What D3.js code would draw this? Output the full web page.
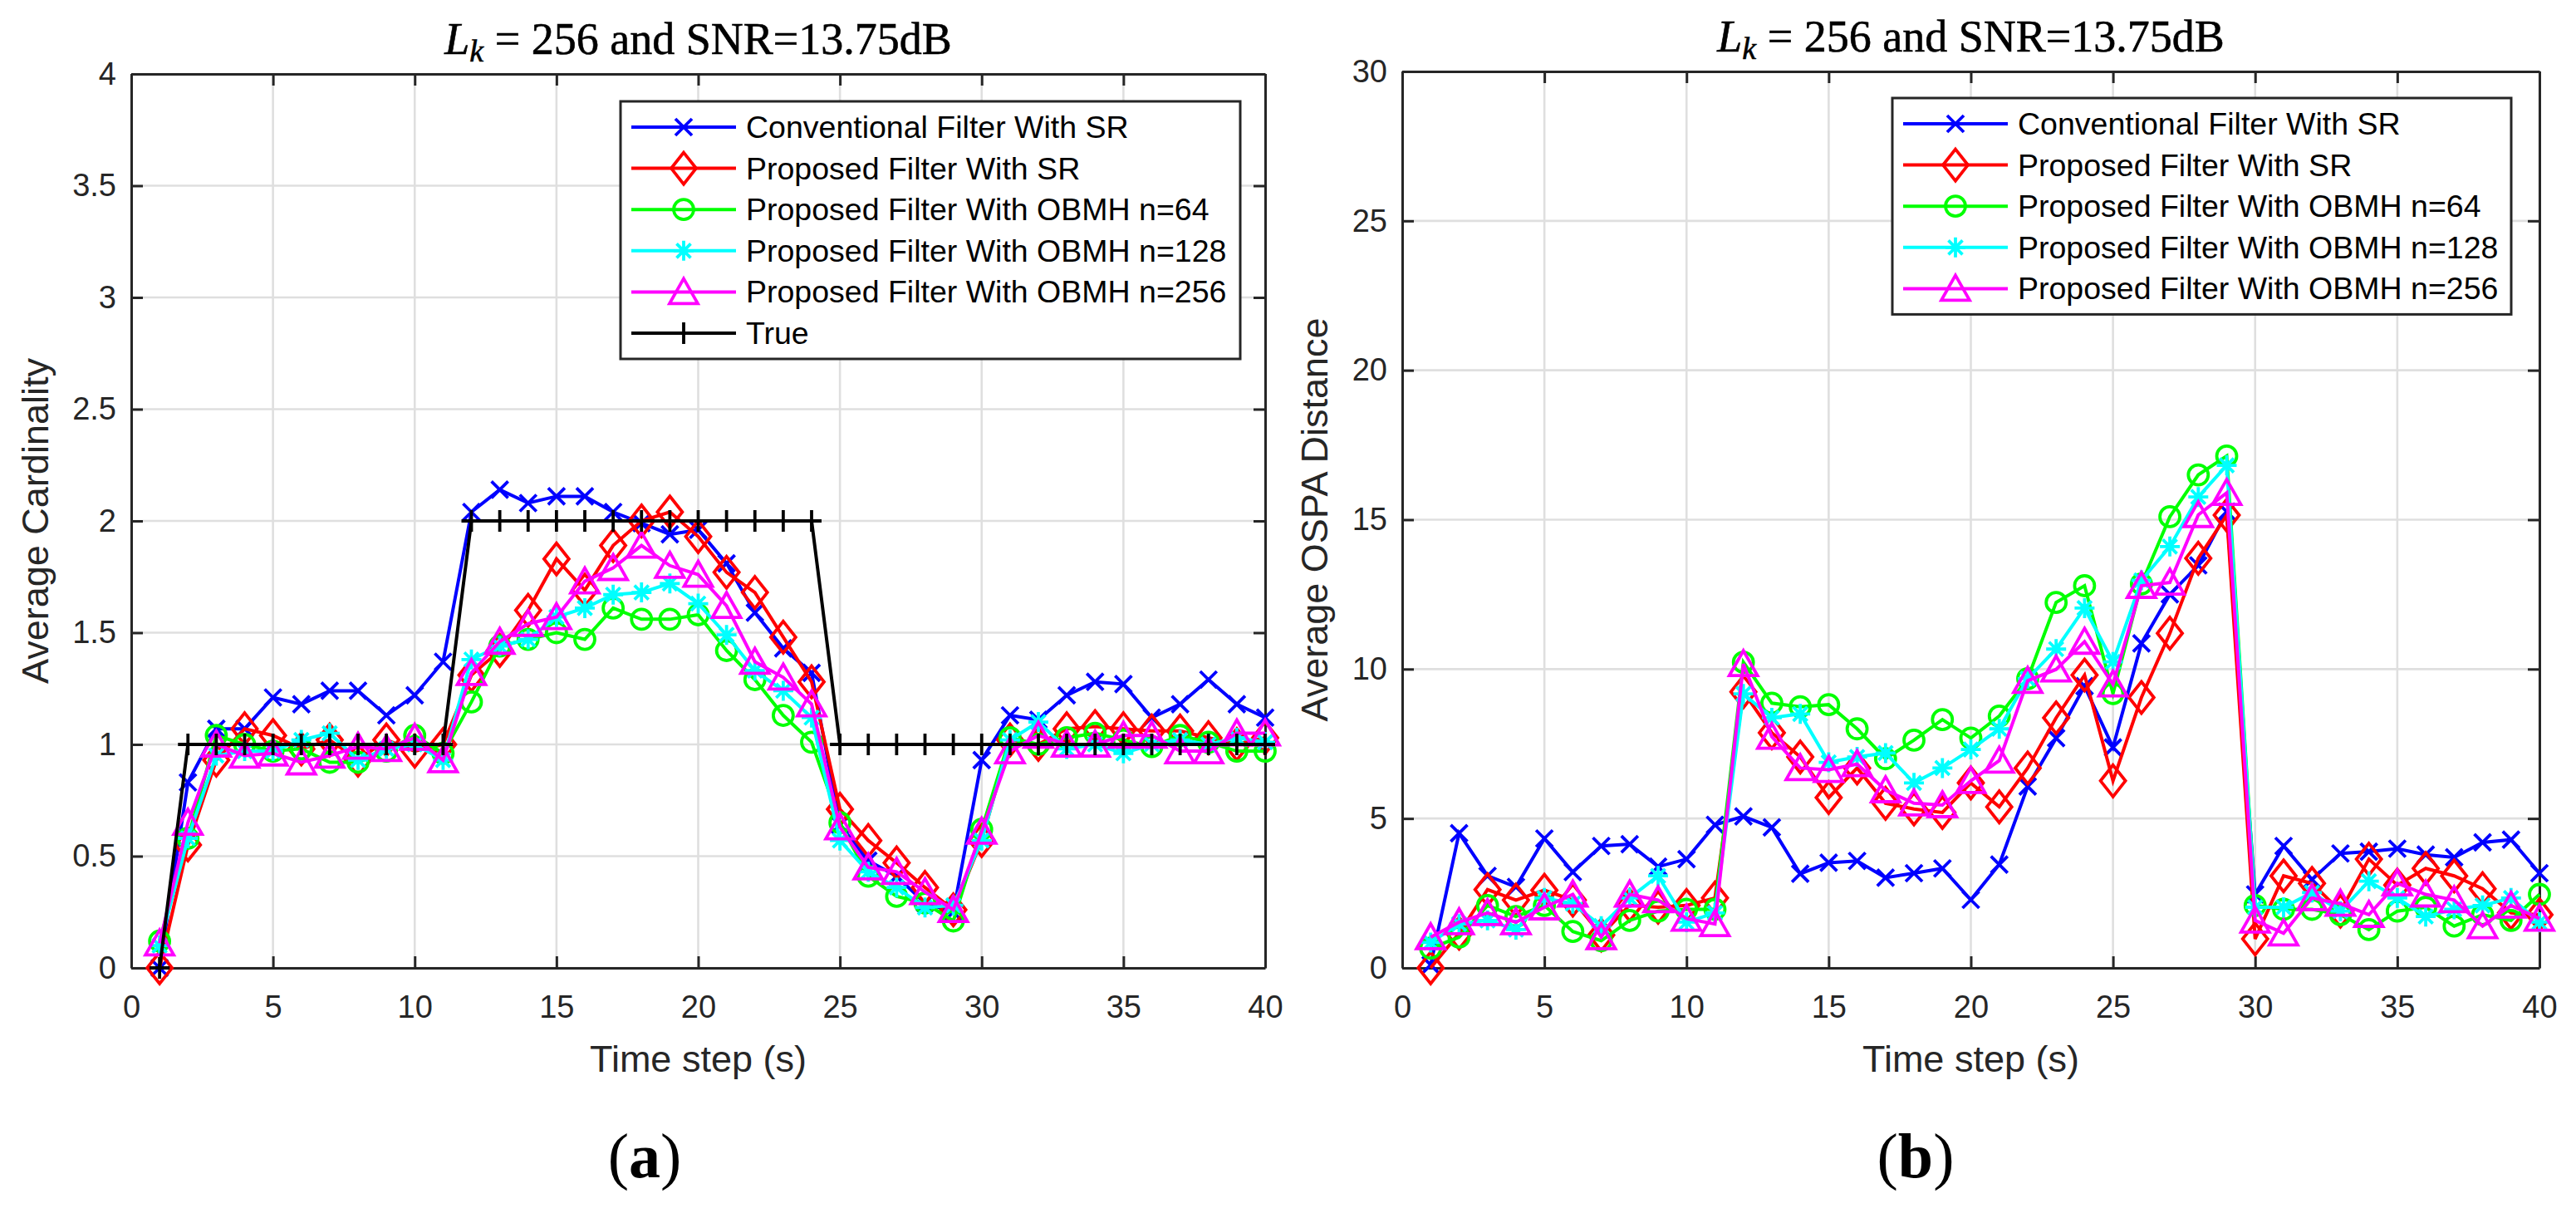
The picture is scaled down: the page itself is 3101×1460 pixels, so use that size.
<!DOCTYPE html>
<html>
<head>
<meta charset="utf-8">
<script src="https://cdn.jsdelivr.net/npm/d3@7/dist/d3.min.js"></script>
<style>
  html, body { margin: 0; padding: 0; background: #ffffff; }
  svg { display: block; }
</style>
</head>
<body>
<svg id="chart" width="3101" height="1460"></svg>
<script>
// ---------------- DATA ----------------
const timeSteps = d3.range(1, 41);
const seriesNames = [
  "Conventional Filter With SR",
  "Proposed Filter With SR",
  "Proposed Filter With OBMH n=64",
  "Proposed Filter With OBMH n=128",
  "Proposed Filter With OBMH n=256",
  "True"
];
const xTicks = [0, 5, 10, 15, 20, 25, 30, 35, 40];
const yTicksCard = [0, 0.5, 1, 1.5, 2, 2.5, 3, 3.5, 4];
const yTicksOspa = [0, 5, 10, 15, 20, 25, 30];

// (a) Average cardinality
const cardConvSR = [0, 0.83, 1.07, 1.07, 1.21, 1.18, 1.24, 1.24, 1.13, 1.22, 1.37, 2.04, 2.14, 2.08, 2.11, 2.11, 2.04, 1.99, 1.94, 1.96,
  1.81, 1.59, 1.43, 1.32, 0.64, 0.48, 0.41, 0.29, 0.25, 0.93, 1.13, 1.11, 1.22, 1.28, 1.27, 1.12, 1.18, 1.29, 1.18, 1.12];
const cardPropSR = [0, 0.55, 0.93, 1.07, 1.04, 0.98, 1.02, 0.93, 1.02, 0.97, 1.0, 1.31, 1.42, 1.6, 1.83, 1.69, 1.89, 2.0, 2.04, 1.93,
  1.77, 1.68, 1.48, 1.28, 0.71, 0.57, 0.47, 0.36, 0.26, 0.57, 1.02, 1.0, 1.07, 1.08, 1.07, 1.06, 1.06, 1.03, 1.0, 1.03];
const cardObmh64 = [0.12, 0.58, 1.04, 1.0, 0.97, 0.98, 0.92, 0.92, 0.97, 1.04, 0.96, 1.19, 1.44, 1.47, 1.5, 1.47, 1.61, 1.56, 1.56, 1.58,
  1.42, 1.29, 1.13, 1.01, 0.65, 0.41, 0.32, 0.29, 0.21, 0.62, 1.03, 1.0, 1.03, 1.05, 1.02, 0.99, 1.04, 1.01, 0.97, 0.97];
const cardObmh128 = [0.1, 0.58, 0.95, 0.97, 0.97, 1.02, 1.05, 0.93, 0.98, 1.0, 0.93, 1.38, 1.44, 1.47, 1.57, 1.61, 1.67, 1.68, 1.72, 1.63,
  1.49, 1.33, 1.24, 1.12, 0.57, 0.43, 0.36, 0.27, 0.28, 0.57, 1.02, 1.1, 0.98, 1.0, 0.96, 1.0, 1.02, 1.0, 1.03, 1.01];
const cardObmh256 = [0.11, 0.65, 1.0, 0.95, 0.96, 0.92, 0.95, 0.99, 0.98, 1.03, 0.93, 1.32, 1.46, 1.54, 1.57, 1.73, 1.79, 1.89, 1.8, 1.76,
  1.62, 1.37, 1.3, 1.18, 0.63, 0.45, 0.43, 0.34, 0.26, 0.61, 0.97, 1.04, 1.0, 1.0, 1.04, 1.04, 0.97, 0.97, 1.05, 1.05];
const cardTrue = [0, 1, 1, 1, 1, 1, 1, 1, 1, 1, 1, 2, 2, 2, 2, 2, 2, 2, 2, 2,
  2, 2, 2, 2, 1, 1, 1, 1, 1, 1, 1, 1, 1, 1, 1, 1, 1, 1, 1, 1];

// (b) Average OSPA distance
const ospaConvSR = [0.1, 4.51, 3.08, 2.71, 4.33, 3.21, 4.08, 4.14, 3.39, 3.64, 4.79, 5.07, 4.7, 3.15, 3.52, 3.58, 3.02, 3.17, 3.33, 2.28,
  3.46, 6.07, 7.69, 9.43, 7.38, 10.86, 12.5, 13.47, 15.27, 2.46, 4.08, 2.96, 3.83, 3.89, 3.99, 3.79, 3.7, 4.2, 4.29, 3.17];
const ospaPropSR = [0, 1.16, 2.62, 2.27, 2.6, 2.27, 1.1, 2.1, 2.03, 2.09, 2.34, 9.24, 7.87, 7.06, 5.7, 6.69, 5.51, 5.32, 5.2, 6.19,
  5.39, 6.69, 8.37, 9.8, 6.26, 9.05, 11.2, 13.71, 15.15, 0.97, 3.08, 2.83, 1.9, 3.64, 2.77, 3.33, 3.08, 2.65, 1.84, 1.78];
const ospaObmh64 = [0.66, 1.03, 2.09, 1.72, 2.09, 1.22, 0.91, 1.59, 1.9, 1.96, 1.96, 10.23, 8.86, 8.74, 8.81, 8.0, 7.0, 7.62, 8.31, 7.69,
  8.43, 9.68, 12.23, 12.79, 9.18, 12.85, 15.1, 16.5, 17.13, 2.09, 1.96, 1.96, 1.78, 1.28, 1.9, 2.03, 1.4, 1.78, 1.59, 2.46];
const ospaObmh128 = [0.85, 1.47, 1.59, 1.28, 2.34, 2.15, 1.4, 2.34, 3.08, 1.53, 1.84, 9.17, 8.37, 8.5, 6.88, 7.06, 7.19, 6.19, 6.69, 7.31,
  8.0, 9.68, 10.67, 12.04, 10.24, 12.97, 14.1, 15.76, 16.82, 2.03, 2.03, 2.52, 1.9, 2.9, 2.34, 1.72, 1.96, 2.09, 2.34, 1.53];
const ospaObmh256 = [1.03, 1.53, 1.84, 1.53, 2.03, 2.46, 1.03, 2.46, 2.27, 1.65, 1.47, 10.17, 7.74, 6.69, 6.63, 6.82, 5.95, 5.51, 5.45, 6.26,
  6.94, 9.61, 9.99, 10.92, 9.49, 12.79, 12.9, 15.16, 15.9, 1.59, 1.16, 2.34, 2.15, 1.78, 2.83, 2.46, 2.27, 1.4, 2.09, 1.65];

// ---------------- STYLE ----------------
const colors = ["#0000ff", "#ff0000", "#00ff00", "#00ffff", "#ff00ff", "#000000"];
const markers = ["x", "diamond", "circle", "asterisk", "triangle", "plus"];
const axisColor = "#262626";
const gridColor = "#dfdfdf";
const sansFont = "'Liberation Sans', Arial, Helvetica, sans-serif";
const serifFont = "'Liberation Serif', 'Times New Roman', serif";

function markerPath(type) {
  switch (type) {
    case "x": return "M-10,-10L10,10M-10,10L10,-10";
    case "diamond": return "M0,-19L15,0L0,19L-15,0Z";
    case "circle": return "M12,0A12,12 0 1,1 -12,0A12,12 0 1,1 12,0Z";
    case "asterisk": return "M0,-12V12M-12,0H12M-8.5,-8.5L8.5,8.5M-8.5,8.5L8.5,-8.5";
    case "triangle": return "M0,-16L17,14L-17,14Z";
    case "plus": return "M-12,0H12M0,-13V13";
  }
}

const svg = d3.select("#chart");
svg.append("rect").attr("width", 3101).attr("height", 1460).attr("fill", "#ffffff");

function drawPanel(opts) {
  const x = d3.scaleLinear().domain([0, 40]).range([opts.left, opts.right]);
  const y = d3.scaleLinear().domain(opts.yDomain).range([opts.bottom, opts.top]);
  const g = svg.append("g");

  // grid
  const grid = g.append("g");
  grid.selectAll("line.gx").data(xTicks).join("line")
    .attr("x1", d => x(d)).attr("x2", d => x(d))
    .attr("y1", opts.top).attr("y2", opts.bottom)
    .attr("stroke", gridColor).attr("stroke-width", 2.6);
  grid.selectAll("line.gy").data(opts.yTicks).join("line")
    .attr("x1", opts.left).attr("x2", opts.right)
    .attr("y1", d => y(d)).attr("y2", d => y(d))
    .attr("stroke", gridColor).attr("stroke-width", 2.6);

  // axes (ticks inward, box on)
  const styleAxis = (sel) => {
    sel.selectAll("path.domain").attr("stroke", axisColor).attr("stroke-width", 3);
    sel.selectAll(".tick line").attr("stroke", axisColor).attr("stroke-width", 3);
    sel.selectAll(".tick text").attr("fill", axisColor)
      .style("font-family", sansFont).style("font-size", "38px");
  };
  g.append("g").attr("transform", `translate(0,${opts.bottom})`)
    .call(d3.axisBottom(x).tickValues(xTicks).tickSizeInner(-14).tickSizeOuter(0).tickPadding(33))
    .call(styleAxis);
  g.append("g").attr("transform", `translate(0,${opts.top})`)
    .call(d3.axisTop(x).tickValues(xTicks).tickSizeInner(-14).tickSizeOuter(0).tickFormat(""))
    .call(styleAxis);
  g.append("g").attr("transform", `translate(${opts.left},0)`)
    .call(d3.axisLeft(y).tickValues(opts.yTicks).tickSizeInner(-14).tickSizeOuter(0).tickPadding(18)
      .tickFormat(d => String(d)))
    .call(styleAxis);
  g.append("g").attr("transform", `translate(${opts.right},0)`)
    .call(d3.axisRight(y).tickValues(opts.yTicks).tickSizeInner(-14).tickSizeOuter(0).tickFormat(""))
    .call(styleAxis);
  g.selectAll("g").attr("font-family", null).attr("font-size", null);

  // series
  const line = d3.line().x((d, i) => x(timeSteps[i])).y(d => y(d));
  opts.series.forEach((vals, k) => {
    const sg = g.append("g");
    sg.append("path").attr("d", line(vals)).attr("fill", "none")
      .attr("stroke", colors[k]).attr("stroke-width", 4).attr("stroke-linejoin", "miter");
    sg.selectAll("path.m").data(vals).join("path")
      .attr("class", "m")
      .attr("d", markerPath(markers[k]))
      .attr("transform", (d, i) => `translate(${x(timeSteps[i])},${y(d)})`)
      .attr("fill", "none").attr("stroke", colors[k]).attr("stroke-width", 3.8);
  });

  // legend
  const n = opts.series.length;
  const lg = g.append("g").attr("transform", `translate(${opts.legX},${opts.legY})`);
  lg.append("rect").attr("x", 0).attr("y", 0)
    .attr("width", opts.legW).attr("height", 31 + (n - 1) * 49.6 + 31)
    .attr("fill", "#ffffff").attr("stroke", axisColor).attr("stroke-width", 3);
  for (let k = 0; k < n; k++) {
    const ry = 31 + k * 49.6;
    lg.append("line").attr("x1", 13).attr("x2", 139).attr("y1", ry).attr("y2", ry)
      .attr("stroke", colors[k]).attr("stroke-width", 4);
    lg.append("path").attr("d", markerPath(markers[k]))
      .attr("transform", `translate(76,${ry})`)
      .attr("fill", "none").attr("stroke", colors[k]).attr("stroke-width", 3.8);
    lg.append("text").attr("x", 151).attr("y", ry + 13)
      .attr("font-family", sansFont).attr("font-size", 37.5).attr("fill", "#000000")
      .text(seriesNames[k]);
  }

  // title
  const cx = (opts.left + opts.right) / 2;
  const t = g.append("text").attr("x", cx).attr("y", opts.titleY)
    .attr("text-anchor", "middle").attr("font-family", serifFont).attr("font-size", 54)
    .attr("fill", "#000000").attr("stroke", "#000000").attr("stroke-width", 0.6);
  t.append("tspan").attr("font-style", "italic").text("L");
  t.append("tspan").attr("font-style", "italic").attr("font-size", 38).attr("dy", 9).text("k");
  t.append("tspan").attr("dy", -9).text(" = 256 and SNR=13.75dB");

  // axis labels
  g.append("text").attr("x", cx).attr("y", 1290).attr("text-anchor", "middle")
    .attr("font-family", sansFont).attr("font-size", 45).attr("fill", axisColor).text("Time step (s)");
  g.append("text").attr("transform", `translate(${opts.yLabelX},${(opts.top + opts.bottom) / 2}) rotate(-90)`)
    .attr("text-anchor", "middle").attr("font-family", sansFont).attr("font-size", 45).attr("fill", axisColor)
    .text(opts.yLabel);

  // panel tag
  g.append("text").attr("x", opts.left + 618).attr("y", 1417).attr("text-anchor", "middle")
    .attr("font-family", serifFont).attr("font-size", 76).attr("fill", "#000000")
    .html(`<tspan font-weight="normal">(</tspan><tspan font-weight="bold">${opts.tag}</tspan><tspan font-weight="normal">)</tspan>`);
}

drawPanel({
  left: 158, right: 1523, top: 89, bottom: 1165,
  yDomain: [0, 4], yTicks: yTicksCard,
  series: [cardConvSR, cardPropSR, cardObmh64, cardObmh128, cardObmh256, cardTrue],
  legX: 747, legY: 122, legW: 746,
  titleY: 65, yLabelX: 58, yLabel: "Average Cardinality", tag: "a"
});

drawPanel({
  left: 1688, right: 3057, top: 86, bottom: 1165,
  yDomain: [0, 30], yTicks: yTicksOspa,
  series: [ospaConvSR, ospaPropSR, ospaObmh64, ospaObmh128, ospaObmh256],
  legX: 2278, legY: 118, legW: 745,
  titleY: 62, yLabelX: 1598, yLabel: "Average OSPA Distance", tag: "b"
});
</script>
</body>
</html>
